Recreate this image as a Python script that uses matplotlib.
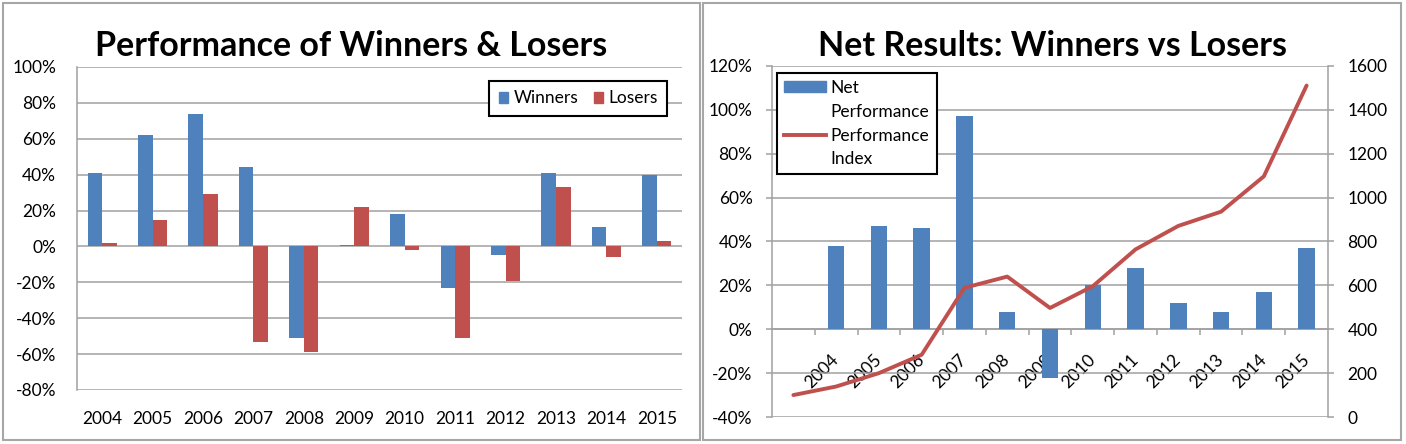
import numpy as np
import matplotlib
matplotlib.use("Agg")
import matplotlib.pyplot as plt
from matplotlib.patches import Patch, Rectangle
from matplotlib.lines import Line2D
from matplotlib.ticker import FuncFormatter, MultipleLocator

# ------------------------------------------------------------
# dados
# ------------------------------------------------------------
anos = ["2004", "2005", "2006", "2007", "2008", "2009",
        "2010", "2011", "2012", "2013", "2014", "2015"]

winners = [41, 62, 74, 44, -51, 1, 18, -23, -5, 41, 11, 40]
losers = [2, 15, 29, -53, -59, 22, -2, -51, -19, 33, -6, 3]

net_perf = [38, 47, 46, 97, 8, -22, 20, 28, 12, 8, 17, 37]
# o índice começa um ano antes (base 100)
perf_index = [100, 139, 200, 284, 589, 640, 497, 596, 764, 871, 936, 1097, 1511]

# ------------------------------------------------------------
# estilo
# ------------------------------------------------------------
plt.rcParams['font.family'] = ['Lato', 'DejaVu Sans']
BLUE = "#4F81BD"
RED = "#C0504D"
GRID = "#A0A0A0"
FS = 12.5
FS_T = 24.5

W, H = 1406, 444
fig = plt.figure(figsize=(W / 100, H / 100), dpi=100)
fig.patch.set_facecolor("white")


def px_axes(x0, y0, x1, y1):
    # caixa em pixels (origem no topo) -> coordenadas da figura
    return fig.add_axes([x0 / W, 1 - y1 / H, (x1 - x0) / W, (y1 - y0) / H])


pct = FuncFormatter(lambda v, p: f"{v:.0f}%")

# molduras dos dois gráficos
for bx0, bx1 in [(3, 700), (703, 1401)]:
    fig.add_artist(Rectangle((bx0 / W, 1 - 440 / H), (bx1 - bx0) / W, 437 / H,
                             transform=fig.transFigure, fill=False,
                             edgecolor="#A6A6A6", linewidth=1.5))

x = np.arange(len(anos))

# ------------------------------------------------------------
# 1. Performance of Winners & Losers
# ------------------------------------------------------------
ax1 = px_axes(77, 67, 682, 390)
bw = 0.29
ax1.bar(x - bw / 2, winners, bw, color=BLUE, zorder=3)
ax1.bar(x + bw / 2, losers, bw, color=RED, zorder=3)
ax1.set_xlim(-0.5, len(anos) - 0.5)
ax1.set_ylim(-80, 100)
ax1.yaxis.set_major_locator(MultipleLocator(20))
ax1.yaxis.set_major_formatter(pct)
ax1.set_xticks(x)
ax1.set_xticklabels(anos)
ax1.grid(axis="y", color=GRID, linewidth=1.1, zorder=0)
for s in ["top", "right", "bottom"]:
    ax1.spines[s].set_visible(False)
ax1.spines["left"].set_color(GRID)
ax1.spines["left"].set_linewidth(1.1)
ax1.tick_params(axis="x", length=0, pad=15, labelsize=FS)
ax1.tick_params(axis="y", length=0, pad=15, labelsize=FS, colors="black")

leg1 = ax1.legend(handles=[Patch(color=BLUE, label="Winners"),
                           Patch(color=RED, label="Losers")],
                  ncol=2, loc="upper right", bbox_to_anchor=(0.976, 0.957),
                  borderaxespad=0, fontsize=FS, handlelength=0.55,
                  handleheight=0.6, handletextpad=0.3, columnspacing=0.9,
                  fancybox=False, framealpha=1, edgecolor="black",
                  borderpad=0.55)
leg1.get_frame().set_linewidth(1.5)
leg1.set_zorder(5)

fig.text(351 / W, 1 - 46 / H, "Performance of Winners & Losers",
         ha="center", va="center", fontsize=FS_T, fontweight="bold")

# ------------------------------------------------------------
# 2. Net Results: Winners vs Losers
# ------------------------------------------------------------
ax2 = px_axes(772, 66, 1328, 417)
ax2.bar(x, net_perf, 0.385, color=BLUE, zorder=3)
ax2.set_xlim(-1.5, len(anos) - 0.5)
ax2.set_ylim(-40, 120)
ax2.yaxis.set_major_locator(MultipleLocator(20))
ax2.yaxis.set_major_formatter(pct)
ax2.grid(axis="y", color=GRID, linewidth=1.1, zorder=0)
ax2.spines["top"].set_visible(False)
ax2.spines["right"].set_visible(False)
ax2.spines["left"].set_color(GRID)
ax2.spines["left"].set_linewidth(1.1)
ax2.spines["bottom"].set_position(("data", 0))
ax2.spines["bottom"].set_color(GRID)
ax2.spines["bottom"].set_linewidth(1.1)
ax2.set_xticks(x)
ax2.set_xticklabels(anos, rotation=45, ha="right", va="center",
                    rotation_mode="anchor")
ax2.set_xticks(np.arange(-0.5, len(anos) - 1), minor=True)
ax2.tick_params(axis="x", which="major", length=0, pad=20, labelsize=FS)
ax2.tick_params(axis="x", which="minor", length=4, width=1.1, color=GRID,
                direction="out")
ax2.tick_params(axis="y", length=4, width=1.1, color=GRID, pad=10,
                labelsize=FS, labelcolor="black")

ax3 = ax2.twinx()
ax3.plot(np.arange(len(perf_index)) - 1, perf_index, color=RED,
         linewidth=2.8, zorder=4, solid_capstyle="round")
ax3.set_ylim(0, 1600)
ax3.yaxis.set_major_locator(MultipleLocator(200))
for s in ["top", "left", "bottom"]:
    ax3.spines[s].set_visible(False)
ax3.spines["right"].set_color(GRID)
ax3.spines["right"].set_linewidth(1.1)
ax3.tick_params(axis="y", length=4, width=1.1, color=GRID, pad=10,
                labelsize=FS, labelcolor="black")

# legenda com quebras de linha como no Excel
vazio = Line2D([], [], color="none")
leg2 = ax3.legend(handles=[Patch(color=BLUE), vazio,
                           Line2D([], [], color=RED, linewidth=2.8), vazio],
                  labels=["Net", "Performance", "Performance", "Index"],
                  loc="upper left", bbox_to_anchor=(0.009, 0.98),
                  borderaxespad=0, fontsize=FS, handlelength=2.4,
                  handleheight=0.6, handletextpad=0.3, labelspacing=0.45,
                  fancybox=False, framealpha=1, edgecolor="black",
                  borderpad=0.4)
leg2.get_frame().set_linewidth(1.5)

fig.text(1052 / W, 1 - 46 / H, "Net Results: Winners vs Losers",
         ha="center", va="center", fontsize=FS_T, fontweight="bold")

plt.savefig("out.png", dpi=100)
